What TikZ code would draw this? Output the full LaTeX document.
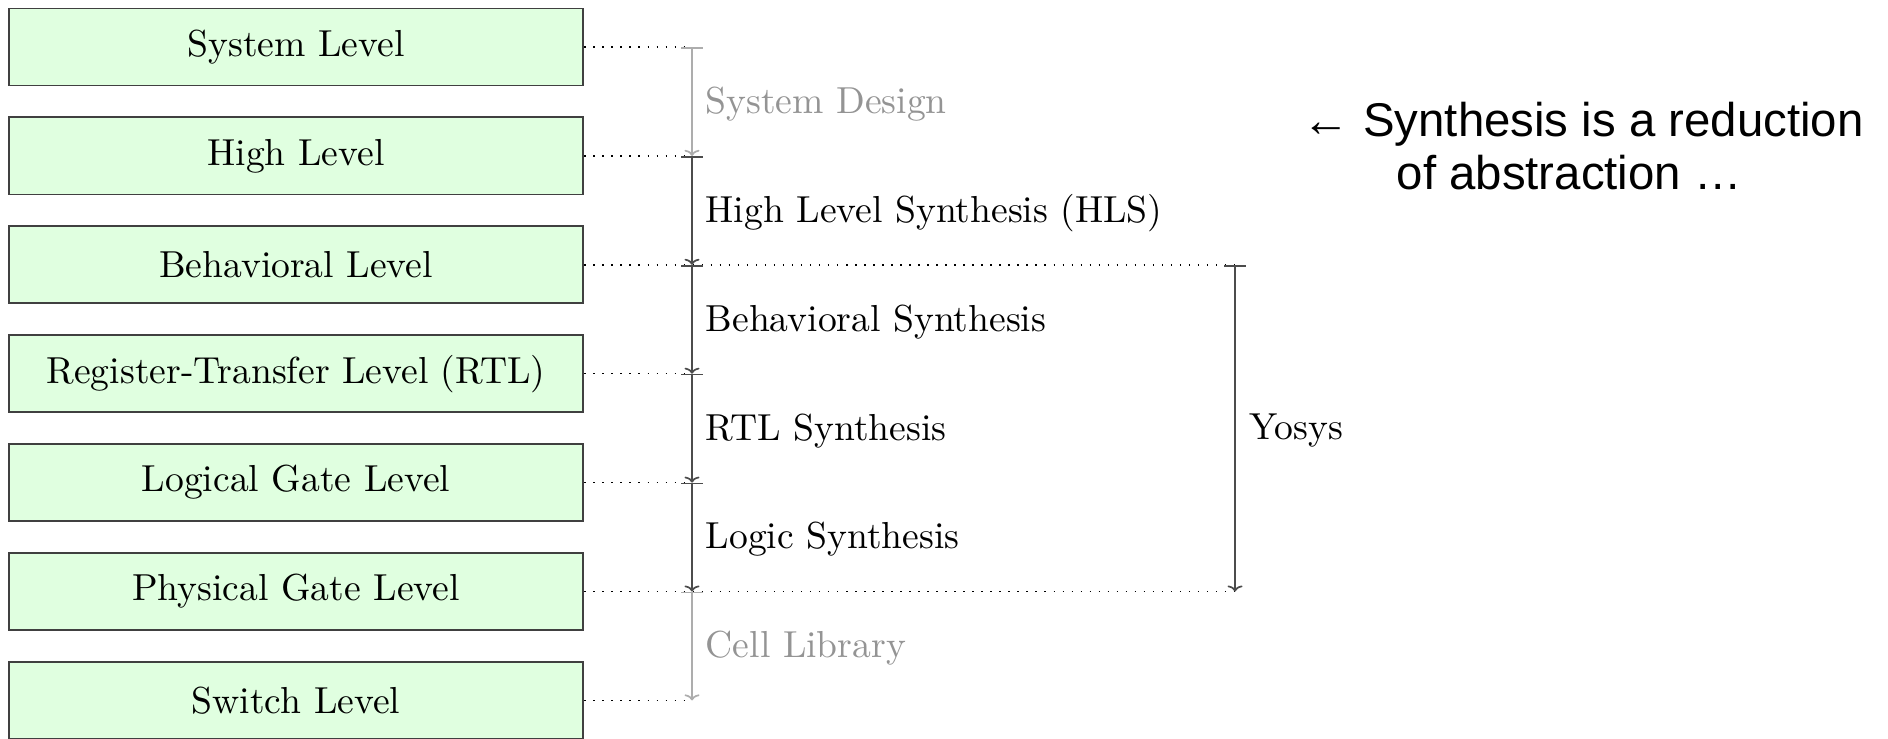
\documentclass[tikz,border=0pt]{standalone}
\usepackage{fontspec}
\usetikzlibrary{arrows.meta}
\newfontfamily\notefont{Liberation Sans}
\definecolor{levelfill}{RGB}{224,255,224}
\begin{document}
\begin{tikzpicture}[x=0.266pt, y=-0.266pt,
  level/.style={draw=black!75, line width=0.5pt, fill=levelfill,
    minimum width=152.9pt, minimum height=20.5pt, inner sep=0pt},
  guide/.style={dotted, line width=0.4pt, black},
  span/.style={line width=0.45pt, {Bar[width=5.6pt]}-{To[width=4pt,length=1.6pt]}},
  major/.style={span, black!70},
  minor/.style={span, black!32},
  steplabel/.style={anchor=west, inner sep=0pt},
  minorlabel/.style={steplabel, text=black!42}]
  \useasboundingbox (0,0) rectangle (1888,738);

  % abstraction levels
  \node[level] (sys)  at (296,47)    {System Level};
  \node[level] (high) at (296,155.9) {High Level};
  \node[level] (beh)  at (296,264.8) {Behavioral Level};
  \node[level] (rtl)  at (296,373.7) {Register-Transfer Level (RTL)};
  \node[level] (gate) at (296,482.6) {Logical Gate Level};
  \node[level] (phys) at (296,591.5) {Physical Gate Level};
  \node[level] (sw)   at (296,700.4) {Switch Level};

  % columns of the synthesis steps
  \coordinate (colA) at (692,0);
  \coordinate (colB) at (1235,0);

  % guide lines from each level
  \draw[guide] (sys.east)  -- (sys.east -| colA);
  \draw[guide] (high.east) -- (high.east -| colA);
  \draw[guide] (beh.east)  -- (beh.east -| colB);
  \draw[guide] (rtl.east)  -- (rtl.east -| colA);
  \draw[guide] (gate.east) -- (gate.east -| colA);
  \draw[guide] (phys.east) -- (phys.east -| colB);
  \draw[guide] (sw.east)   -- (sw.east -| colA);

  % synthesis steps
  \draw[minor] (sys.east -| colA)  -- (high.east -| colA);
  \draw[major] (high.east -| colA) -- (beh.east -| colA);
  \draw[major] (beh.east -| colA)  -- (rtl.east -| colA);
  \draw[major] (rtl.east -| colA)  -- (gate.east -| colA);
  \draw[major] (gate.east -| colA) -- (phys.east -| colA);
  \draw[minor] (phys.east -| colA) -- (sw.east -| colA);
  \draw[major] (beh.east -| colB)  -- (phys.east -| colB);

  \node[minorlabel] (lsd)  at (705,104) {System Design};
  \node[steplabel]  (lhls) at (705,212.9) {High Level Synthesis (HLS)};
  \node[steplabel]  (lbs)  at (705,321.8) {Behavioral Synthesis};
  \node[steplabel]  (lrtl) at (705,430.7) {RTL Synthesis};
  \node[steplabel]  (llog) at (705,539.6) {Logic Synthesis};
  \node[minorlabel] (lcell) at (705,648.5)  {Cell Library};
  \node[steplabel]  (lyos) at (1249,430.7) {Yosys};

  % side note
  \node[anchor=base west, inner sep=0pt, align=left,
        font=\notefont\fontsize{12.6pt}{14.1pt}\selectfont] (note) at (1302,189.7)
    {← Synthesis is a reduction\\\hspace*{25pt}of abstraction …};
\end{tikzpicture}
\end{document}
